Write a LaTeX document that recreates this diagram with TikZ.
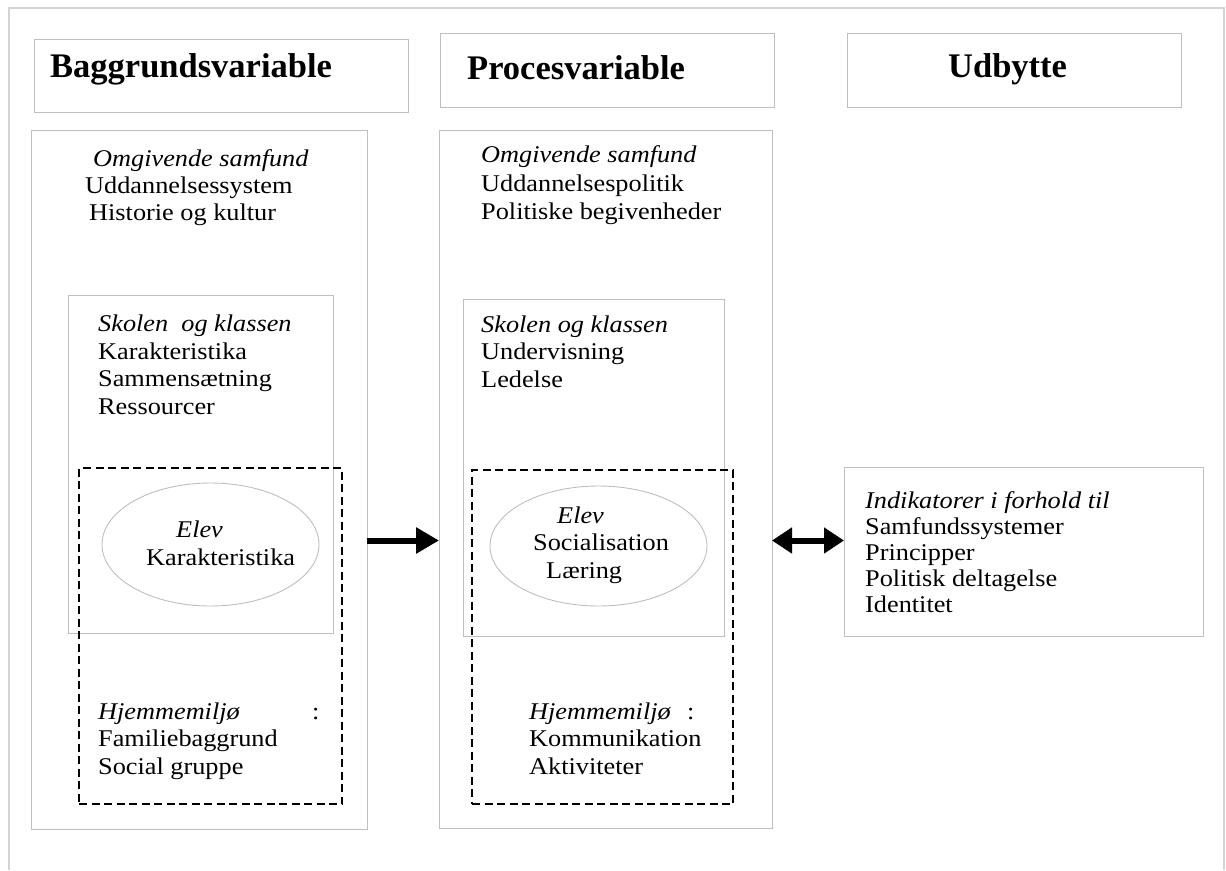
\documentclass[tikz,border=0pt]{standalone}
\usepackage{fontspec}
\setmainfont{Liberation Serif}[FakeStretch=1.095]
\newfontfamily\headfont{Liberation Serif}
\usepackage{xcolor}
\usepackage{tikz}
\usetikzlibrary{positioning,arrows.meta,shapes.geometric}
\definecolor{boxgray}{RGB}{190,190,190}
\definecolor{framegray}{RGB}{212,212,212}
\tikzset{
    gbox/.style={draw=boxgray, line width=0.9pt, inner sep=0pt, outer sep=0pt, anchor=north west},
    dbox/.style={draw=black, line width=2.4pt, dash pattern=on 8pt off 4.5pt, inner sep=0pt, outer sep=0pt, anchor=north west},
    oval/.style={ellipse, draw=boxgray, line width=0.9pt, inner sep=0pt},
    txt/.style={anchor=north west, inner sep=0pt, align=left, font=\fontsize{24pt}{27.5pt}\selectfont},
    head/.style={anchor=base west, inner sep=0pt, font=\headfont\bfseries\fontsize{34.5pt}{40pt}\selectfont},
    fatarrow/.style={line width=6pt, -{Triangle[length=23pt,width=25pt]}},
    dblarrow/.style={line width=6pt, {Triangle[length=20pt,width=25pt]}-{Triangle[length=20pt,width=25pt]}}
}

\begin{document}
\begin{tikzpicture}[x=1pt, y=-1pt]
    \useasboundingbox (0,0) rectangle (1226,870);
    % Frame
    \draw[framegray, line width=1.2pt] (9,870) -- (9,8) -- (1224,8) -- (1224,870);

    % Headers
    \node[gbox, minimum width=374pt, minimum height=73pt] (hdbg) at (34,39) {};
    \node[gbox, minimum width=334pt, minimum height=74pt] (hdpr) at (440,33) {};
    \node[gbox, minimum width=334pt, minimum height=74pt] (hdud) at (847,33) {};
    \node[head] (hbg) at (50,77) {Baggrundsvariable};
    \node[head] (hpr) at (467,79) {Procesvariable};
    \node[head] (hud) at (948,77) {Udbytte};

    % Background column
    \node[gbox, minimum width=336pt, minimum height=699pt] (bgbox) at (31,130) {};
    \node[gbox, minimum width=265pt, minimum height=338pt] (bgskole) at (68,295) {};
    \node[dbox, minimum width=263pt, minimum height=336pt] (bghjem) at (79,468) {};
    \node[oval, minimum width=217pt, minimum height=123pt] (bgelev) at (210.5,544.5) {};
    \node[txt, font=\fontsize{24pt}{27pt}\selectfont] (bgsam) at (85,149)
        {\hspace*{8pt}\textit{Omgivende samfund}\\Uddannelsessystem\\\hspace*{4pt}Historie og kultur};
    \node[txt, font=\fontsize{24pt}{27.7pt}\selectfont] (bgskoletxt) at (98,314.5)
        {\textit{Skolen\ \ og klassen}\\Karakteristika\\Sammensætning\\Ressourcer};
    \node[txt, font=\fontsize{24pt}{28.5pt}\selectfont] (bgelevtxt) at (146,520.5)
        {\hspace*{30pt}\textit{Elev}\\Karakteristika};
    \node[txt] (bghjemtxt) at (98,702.5)
        {\makebox[214pt][l]{\itshape Hjemmemiljø}:\\Familiebaggrund\\Social gruppe};

    % Process column
    \node[gbox, minimum width=333pt, minimum height=698pt] (prbox) at (439,130) {};
    \node[gbox, minimum width=261pt, minimum height=337pt] (prskole) at (463,299) {};
    \node[dbox, minimum width=261pt, minimum height=334pt] (prhjem) at (472,470) {};
    \node[oval, minimum width=217pt, minimum height=120pt] (prelev) at (598.5,546) {};
    \node[txt, font=\fontsize{24pt}{28.5pt}\selectfont] (prsam) at (481,145.5)
        {\textit{Omgivende samfund}\\Uddannelsespolitik\\Politiske begivenheder};
    \node[txt] (prskoletxt) at (481,315.5)
        {\textit{Skolen og klassen}\\Undervisning\\Ledelse};
    \node[txt, font=\fontsize{24pt}{27.5pt}\selectfont] (prelevtxt) at (533,506.5)
        {\hspace*{24pt}\textit{Elev}\\Socialisation\\\hspace*{13pt}Læring};
    \node[txt] (prhjemtxt) at (529,702.5)
        {\makebox[158pt][l]{\itshape Hjemmemiljø}:\\Kommunikation\\Aktiviteter};

    % Outcome
    \node[gbox, minimum width=359pt, minimum height=169pt] (udbox) at (844,467) {};
    \node[txt, font=\fontsize{24pt}{26pt}\selectfont] (udtxt) at (865,491.5)
        {\textit{Indikatorer i forhold til}\\Samfundssystemer\\Principper\\Politisk deltagelse\\Identitet};

    % Arrows
    \coordinate (midrow) at (0,540.5);
    \draw[fatarrow] (bgbox.east |- midrow) -- (prbox.west |- midrow);
    \draw[dblarrow] (prbox.east |- midrow) -- (udbox.west |- midrow);
\end{tikzpicture}
\end{document}
